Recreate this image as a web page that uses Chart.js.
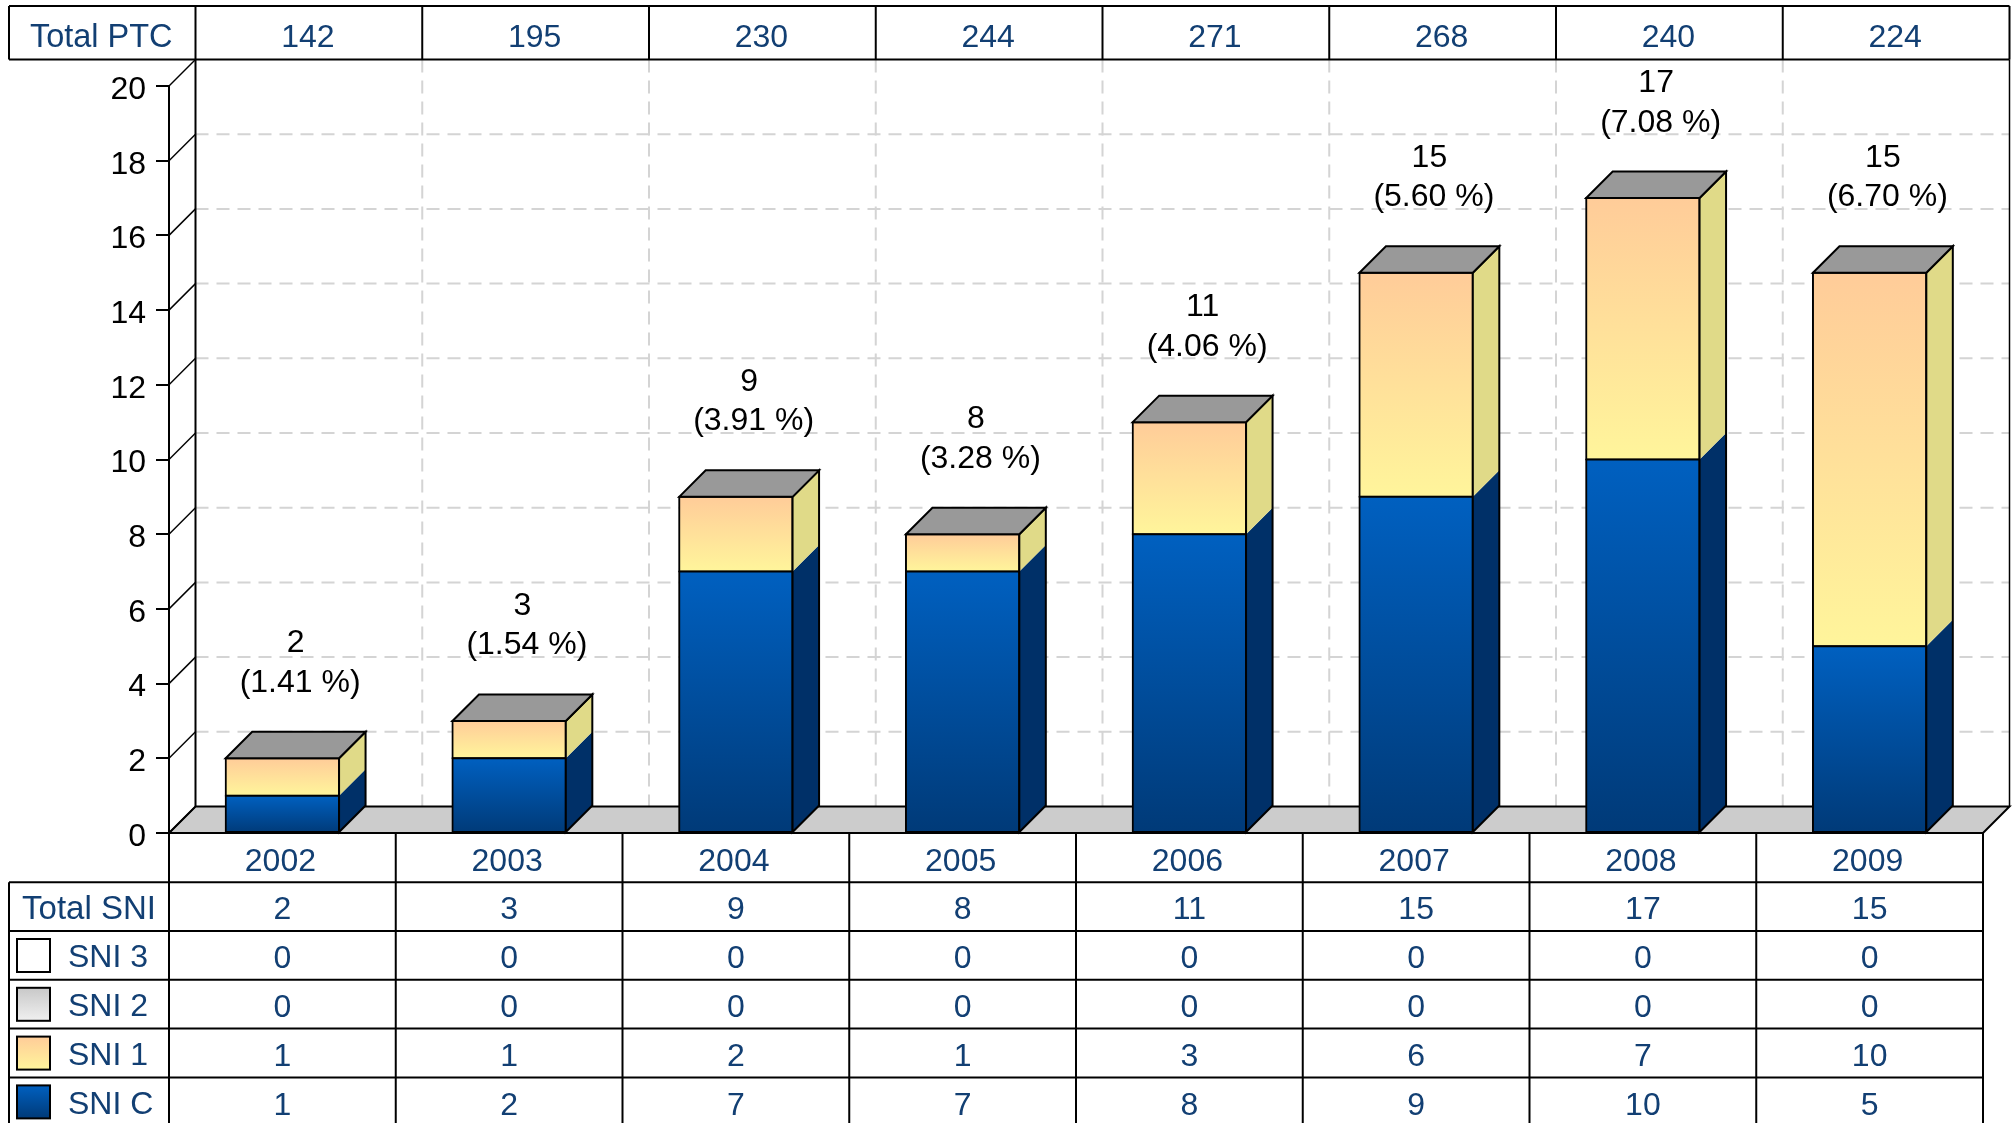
<!DOCTYPE html>
<html>
<head>
<meta charset="utf-8">
<title>SNI / PTC</title>
<script src="https://cdn.jsdelivr.net/npm/chart.js@4/dist/chart.umd.js"></script>
<style>
  html, body { margin: 0; padding: 0; background: #fff; overflow: hidden; }
  canvas { display: block; }
</style>
</head>
<body>
<canvas id="myChart" width="2015" height="1123"></canvas>
<script>
const years = ['2002', '2003', '2004', '2005', '2006', '2007', '2008', '2009']
const totalPtc = [142, 195, 230, 244, 271, 268, 240, 224]
const totalSni = [2, 3, 9, 8, 11, 15, 17, 15]
const percents = ['1.41', '1.54', '3.91', '3.28', '4.06', '5.60', '7.08', '6.70']
const sni3 = [0, 0, 0, 0, 0, 0, 0, 0]
const sni2 = [0, 0, 0, 0, 0, 0, 0, 0]
const sni1 = [1, 1, 2, 1, 3, 6, 7, 10]
const sniC = [1, 2, 7, 7, 8, 9, 10, 5]

const FONT = '"Liberation Sans", Arial, sans-serif'
const NAVY = '#123f73'
const DEPTH = 26.5

// front colour (top, bottom) and side colour of every series
const stackColors = [
    { top: '#0060c0', bottom: '#003a78', side: '#003068' },
    { top: '#ffcc99', bottom: '#fff59b', side: '#e0da88' },
    { top: '#c8c8c8', bottom: '#f0f0f0', side: '#b0b0b0' },
    { top: '#ffffff', bottom: '#ffffff', side: '#eeeeee' }
]

function barGradient(context, colorIndex){
    const chart = context.chart
    const yScale = chart.scales.y
    if(!yScale || context.dataIndex === undefined) return stackColors[colorIndex].top

    let start = 0
    for(let i = 0; i < context.datasetIndex; i++){
        start += chart.data.datasets[i].data[context.dataIndex]
    }
    const end = start + chart.data.datasets[context.datasetIndex].data[context.dataIndex]
    const y1 = yScale.getPixelForValue(end)
    const y2 = yScale.getPixelForValue(start)
    // the scale has no pixels yet on the first pass
    if(!isFinite(y1) || !isFinite(y2)) return stackColors[colorIndex].top

    const gradient = chart.ctx.createLinearGradient(0, y1, 0, y2)
    gradient.addColorStop(0, stackColors[colorIndex].top)
    gradient.addColorStop(1, stackColors[colorIndex].bottom)
    return gradient
}

function makeDataset(label, data, colorIndex){
    return {
        label: label,
        data: data,
        backgroundColor: (context) => barGradient(context, colorIndex),
        borderColor: '#000',
        borderWidth: 2,
        borderSkipped: false,
        inflateAmount: 1,
        barPercentage: 0.5,
        categoryPercentage: 1
    }
}

function line(ctx, x1, y1, x2, y2){
    ctx.beginPath()
    ctx.moveTo(x1, y1)
    ctx.lineTo(x2, y2)
    ctx.stroke()
}

function poly(ctx, points){
    ctx.beginPath()
    points.forEach((p, i) => i ? ctx.lineTo(p[0], p[1]) : ctx.moveTo(p[0], p[1]))
    ctx.closePath()
}

const wallPlugin = {
    id: 'wall',
    beforeDatasetsDraw(chart){
        const ctx = chart.ctx
        const area = chart.chartArea
        const x = chart.scales.x
        const y = chart.scales.y
        const colWidth = x.width / years.length
        const backTop = area.top - DEPTH
        const backBottom = area.bottom - DEPTH
        ctx.save()

        // dashed grid on the back wall
        ctx.strokeStyle = '#d4d4d4'
        ctx.lineWidth = 2
        ctx.setLineDash([13, 8])
        y.ticks.forEach(tick => {
            if(tick.value === 0 || tick.value === 20) return
            const py = y.getPixelForValue(tick.value) - DEPTH
            line(ctx, area.left + DEPTH, py, area.right + DEPTH, py)
        })
        for(let i = 1; i < years.length; i++){
            const px = area.left + DEPTH + colWidth * i
            line(ctx, px, backTop, px, backBottom)
        }
        ctx.setLineDash([])

        // floor
        ctx.fillStyle = '#cccccc'
        ctx.strokeStyle = '#000'
        poly(ctx, [[area.left, area.bottom], [area.left + DEPTH, backBottom], [area.right + DEPTH, backBottom], [area.right, area.bottom]])
        ctx.fill()
        ctx.stroke()

        // wall edges and the small slanted ticks
        line(ctx, area.left + DEPTH, backTop, area.left + DEPTH, backBottom)
        ctx.lineWidth = 1.5
        line(ctx, area.right + DEPTH, backTop, area.right + DEPTH, backBottom)
        y.ticks.forEach(tick => {
            const py = y.getPixelForValue(tick.value)
            line(ctx, area.left, py, area.left + DEPTH, py - DEPTH)
        })
        ctx.restore()
    },
    afterDatasetsDraw(chart){
        const ctx = chart.ctx
        ctx.save()
        ctx.lineWidth = 2
        ctx.strokeStyle = '#000'

        years.forEach((year, index) => {
            let right, topY, left, baseY
            chart.data.datasets.forEach((dataset, i) => {
                if(dataset.data[index] === 0) return
                const bar = chart.getDatasetMeta(i).data[index]
                right = bar.x + bar.width / 2
                left = bar.x - bar.width / 2
                if(baseY === undefined) baseY = bar.base
                topY = bar.y
                ctx.fillStyle = stackColors[i].side
                poly(ctx, [[right, bar.y], [right + DEPTH, bar.y - DEPTH], [right + DEPTH, bar.base - DEPTH], [right, bar.base]])
                ctx.fill()
            })
            // outline of the side, then the lid
            poly(ctx, [[right, topY], [right + DEPTH, topY - DEPTH], [right + DEPTH, baseY - DEPTH], [right, baseY]])
            ctx.stroke()
            ctx.fillStyle = '#999999'
            poly(ctx, [[left, topY], [left + DEPTH, topY - DEPTH], [right + DEPTH, topY - DEPTH], [right, topY]])
            ctx.fill()
            ctx.stroke()

            // value labels above the bar
            const center = (left + right) / 2 + DEPTH / 2
            ctx.fillStyle = '#000'
            ctx.font = '32px ' + FONT
            ctx.textAlign = 'center'
            ctx.textBaseline = 'alphabetic'
            ctx.fillText(String(totalSni[index]), center, topY - DEPTH - 79.5)
            ctx.fillText('(' + percents[index] + ' %)', center + 4.5, topY - DEPTH - 40)
        })
        ctx.restore()
    }
}

const tablePlugin = {
    id: 'tables',
    afterDraw(chart){
        const ctx = chart.ctx
        const area = chart.chartArea
        const colWidth = chart.scales.x.width / years.length
        const outerLeft = 9
        ctx.save()
        ctx.strokeStyle = '#000'
        ctx.lineWidth = 2
        ctx.fillStyle = NAVY
        ctx.textAlign = 'center'
        ctx.textBaseline = 'alphabetic'

        // table on top of the chart
        const topA = 6
        const topB = area.top - DEPTH
        const topLeft = area.left + DEPTH
        line(ctx, outerLeft, topA, area.right + DEPTH, topA)
        line(ctx, outerLeft, topB, area.right + DEPTH, topB)
        line(ctx, outerLeft, topA, outerLeft, topB)
        for(let i = 0; i <= years.length; i++){
            const px = topLeft + colWidth * i
            line(ctx, px, topA, px, topB)
        }
        ctx.font = '32.5px ' + FONT
        ctx.fillText('Total PTC', (outerLeft + topLeft) / 2 - 1, topB - 12.5)
        ctx.font = '32px ' + FONT
        totalPtc.forEach((value, i) => {
            ctx.fillText(String(value), topLeft + colWidth * (i + 0.5) - 1, topB - 12.5)
        })

        // table below the chart
        const rowHeight = 48.8
        const firstRow = area.bottom + 49.2
        const rows = [
            { label: 'Total SNI', values: totalSni },
            { label: 'SNI 3', values: sni3, color: stackColors[3] },
            { label: 'SNI 2', values: sni2, color: stackColors[2] },
            { label: 'SNI 1', values: sni1, color: stackColors[1] },
            { label: 'SNI C', values: sniC, color: stackColors[0] }
        ]
        line(ctx, area.left, area.bottom, area.left, 1123)
        line(ctx, outerLeft, firstRow, outerLeft, 1123)
        for(let i = 1; i <= years.length; i++){
            const px = area.left + colWidth * i
            line(ctx, px, area.bottom, px, 1123)
        }
        rows.forEach((row, r) => {
            const rowTop = firstRow + rowHeight * r
            const baseline = rowTop + rowHeight - 11.7
            line(ctx, outerLeft, rowTop, area.right, rowTop)

            ctx.fillStyle = NAVY
            ctx.font = '32px ' + FONT
            if(row.color){
                ctx.textAlign = 'left'
                ctx.fillText(row.label, 68, baseline - 1)
                ctx.textAlign = 'center'

                const gradient = ctx.createLinearGradient(0, rowTop + 8, 0, rowTop + 41)
                gradient.addColorStop(0, row.color.top)
                gradient.addColorStop(1, row.color.bottom)
                ctx.fillStyle = gradient
                ctx.fillRect(17, rowTop + 8, 33, 33)
                ctx.strokeRect(17, rowTop + 8, 33, 33)
                ctx.fillStyle = NAVY
            } else {
                ctx.font = '33px ' + FONT
                ctx.fillText(row.label, (outerLeft + area.left) / 2, baseline)
            }
            ctx.font = '32px ' + FONT
            row.values.forEach((value, i) => {
                ctx.fillText(String(value), area.left + colWidth * (i + 0.5), baseline)
            })
        })
        ctx.restore()
    }
}

const data = {
    labels: years,
    datasets: [
        makeDataset('SNI C', sniC, 0),
        makeDataset('SNI 1', sni1, 1),
        makeDataset('SNI 2', sni2, 2),
        makeDataset('SNI 3', sni3, 3)
    ]
}

const config = {
    type: 'bar',
    data: data,
    plugins: [wallPlugin, tablePlugin],
    options: {
        responsive: false,
        animation: false,
        devicePixelRatio: 1,
        layout: {
            padding: { left: 0, right: 32, top: 86, bottom: 241 }
        },
        plugins: {
            legend: { display: false },
            title: { display: false },
            tooltip: { enabled: false }
        },
        scales: {
            x: {
                stacked: true,
                afterFit: (scale) => { scale.height = 49 },
                grid: { display: false },
                border: { display: false },
                ticks: {
                    color: NAVY,
                    font: { family: FONT, size: 32 },
                    padding: 2,
                    labelOffset: -2,
                    maxRotation: 0,
                    autoSkip: false
                }
            },
            y: {
                stacked: true,
                min: 0,
                max: 20,
                afterFit: (scale) => { scale.width = 169 },
                grid: { drawOnChartArea: false, color: '#000', lineWidth: 2, tickLength: 13 },
                border: { display: true, color: '#000', width: 2 },
                ticks: {
                    stepSize: 2,
                    color: '#000',
                    // empty first line pushes the number a little under its tick
                    callback: (value) => ['', String(value)],
                    font: { family: FONT, size: 32, lineHeight: '8px' },
                    padding: 10
                }
            }
        }
    }
}

const myChart = new Chart(document.getElementById('myChart'), config)
</script>
</body>
</html>
